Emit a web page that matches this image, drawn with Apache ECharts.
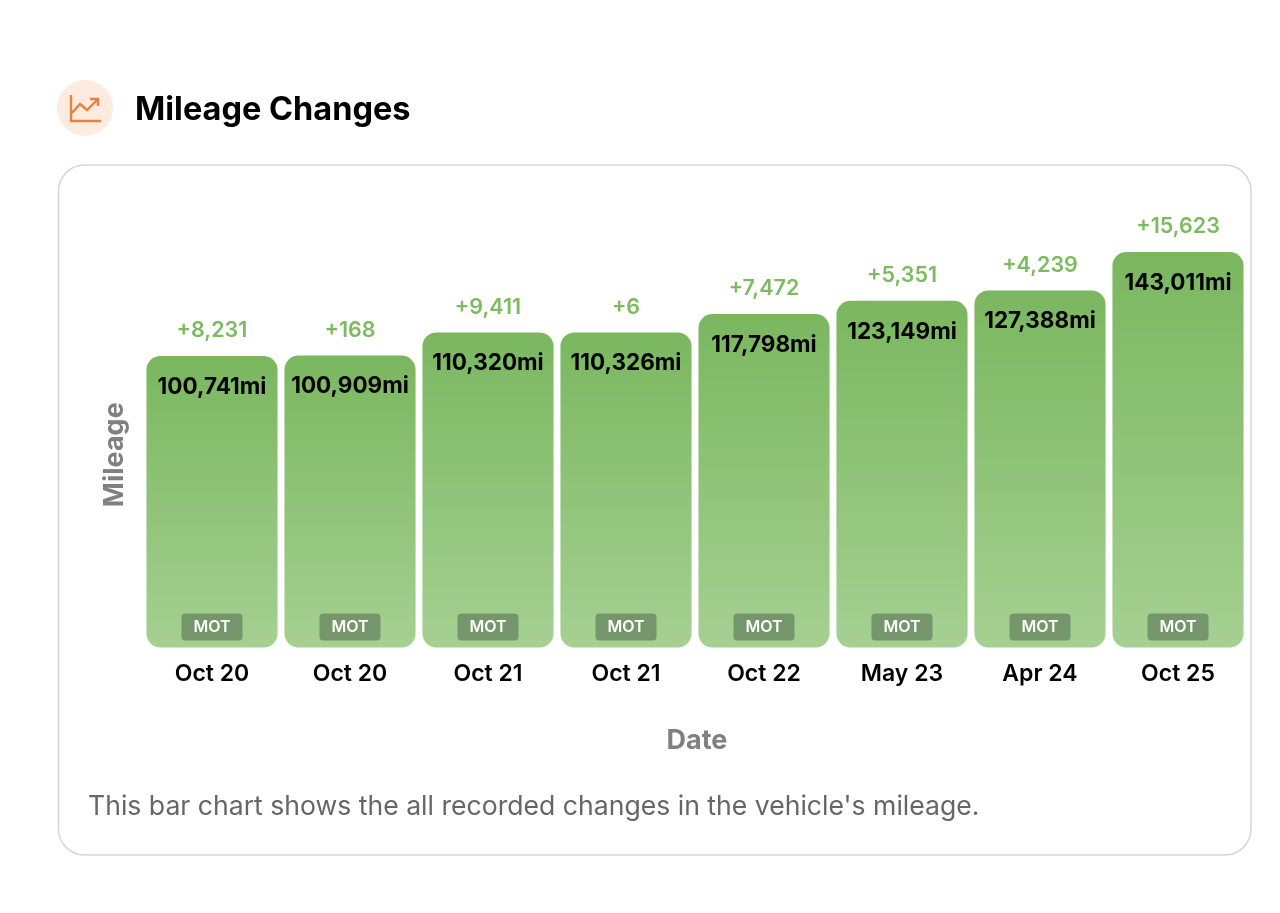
<!DOCTYPE html>
<html><head><meta charset="utf-8">
<style>html,body{margin:0;padding:0;background:#fff}#c{width:1280px;height:913px}</style>
<script src="https://cdn.jsdelivr.net/npm/echarts@6/dist/echarts.min.js"></script>
</head><body><div id="c"></div>
<script>
const dates = ['Oct 20','Oct 20','Oct 21','Oct 21','Oct 22','May 23','Apr 24','Oct 25'];
const mileage = [100741,100909,110320,110326,117798,123149,127388,143011];
const changes = [8231,168,9411,6,7472,5351,4239,15623];
const badges = ['MOT','MOT','MOT','MOT','MOT','MOT','MOT','MOT'];
const axisMin = -17760;
const axisMax = 143011;
const FONT = 'Inter, "Noto Sans", sans-serif';
const chart = echarts.init(document.getElementById('c'), null, {renderer:'canvas'});
const fmt = n => n.toLocaleString('en-US');
chart.setOption({
  animation:false,
  backgroundColor:'#fff',
  title:{text:'Mileage Changes',left:130,top:85,textStyle:{fontFamily:FONT,fontSize:32.5,fontWeight:700,color:'#000',lineHeight:40}},
  grid:{left:143,right:33,top:252,bottom:265.5,containLabel:false},
  xAxis:{type:'category',data:dates,boundaryGap:true,
    axisLine:{show:false},axisTick:{show:false},
    axisLabel:{interval:0,margin:15,color:'#000',fontFamily:FONT,fontSize:23,fontWeight:600},
    name:'Date',nameLocation:'middle',nameGap:80,
    nameTextStyle:{fontFamily:FONT,fontSize:27,fontWeight:700,color:'#808080',padding:[0,0,0,4]}},
  yAxis:{type:'value',min:axisMin,max:axisMax,
    axisLine:{show:false},axisTick:{show:false},axisLabel:{show:false},splitLine:{show:false},
    name:'Mileage',nameLocation:'middle',nameGap:15,nameRotate:90,
    nameTextStyle:{fontFamily:FONT,fontSize:27,fontWeight:700,color:'#808080',padding:[0,10,0,0]}},
  series:[{
    type:'custom',clip:false,
    data:mileage.map((v,i)=>[i,v,changes[i]]),
    encode:{x:0,y:1},
    renderItem(params,api){
      const i=api.value(0),v=api.value(1),ch=api.value(2);
      const top=api.coord([i,v]),base=api.coord([i,axisMin]);
      const w=api.size([1,0])[0]*0.95,cx=top[0],h=base[1]-top[1];
      return {type:'group',children:[
        {type:'rect',shape:{x:cx-w/2,y:top[1],width:w,height:h,r:14},
         style:{fill:new echarts.graphic.LinearGradient(0,0,0,1,[{offset:0,color:'#7ab75f'},{offset:1,color:'#a5d092'}])}},
        {type:'text',style:{text:'+'+fmt(ch),x:cx,y:top[1]-25,align:'center',verticalAlign:'middle',
          fill:'#7cbb5f',fontFamily:FONT,fontSize:21.5,fontWeight:600}},
        {type:'text',style:{text:fmt(v)+'mi',x:cx,y:top[1]+31,align:'center',verticalAlign:'middle',
          fill:'#000',fontFamily:FONT,fontSize:22.5,fontWeight:700}},
        {type:'rect',shape:{x:cx-30.5,y:base[1]-34,width:61,height:27,r:4},style:{fill:'#75966a'}},
        {type:'text',style:{text:badges[i],x:cx,y:base[1]-20,align:'center',verticalAlign:'middle',
          fill:'#fff',fontFamily:FONT,fontSize:16,fontWeight:600}}
      ]};
    }
  }],
  graphic:[
    {type:'circle',shape:{cx:85,cy:108,r:28},style:{fill:'#fdebe0'},silent:true},
    {type:'polyline',shape:{points:[[71,95],[71,121],[101,121]]},style:{stroke:'#e8813f',lineWidth:2.4,fill:'none'},silent:true},
    {type:'polyline',shape:{points:[[72,113],[80,104],[87,110],[98,99]]},style:{stroke:'#e8813f',lineWidth:2.4,fill:'none'},silent:true},
    {type:'polyline',shape:{points:[[90,99],[98,99],[98,106]]},style:{stroke:'#e8813f',lineWidth:2.4,fill:'none'},silent:true},
    {type:'rect',z:-1,shape:{x:58.5,y:165,width:1192.5,height:690,r:26},style:{fill:'#fff',stroke:'#d6d6d6',lineWidth:1.5},silent:true},
    {type:'text',left:88,top:793,style:{text:"This bar chart shows the all recorded changes in the vehicle's mileage.",fill:'#666',fontFamily:FONT,fontSize:26.6,fontWeight:400}}
  ]
});
</script></body></html>
